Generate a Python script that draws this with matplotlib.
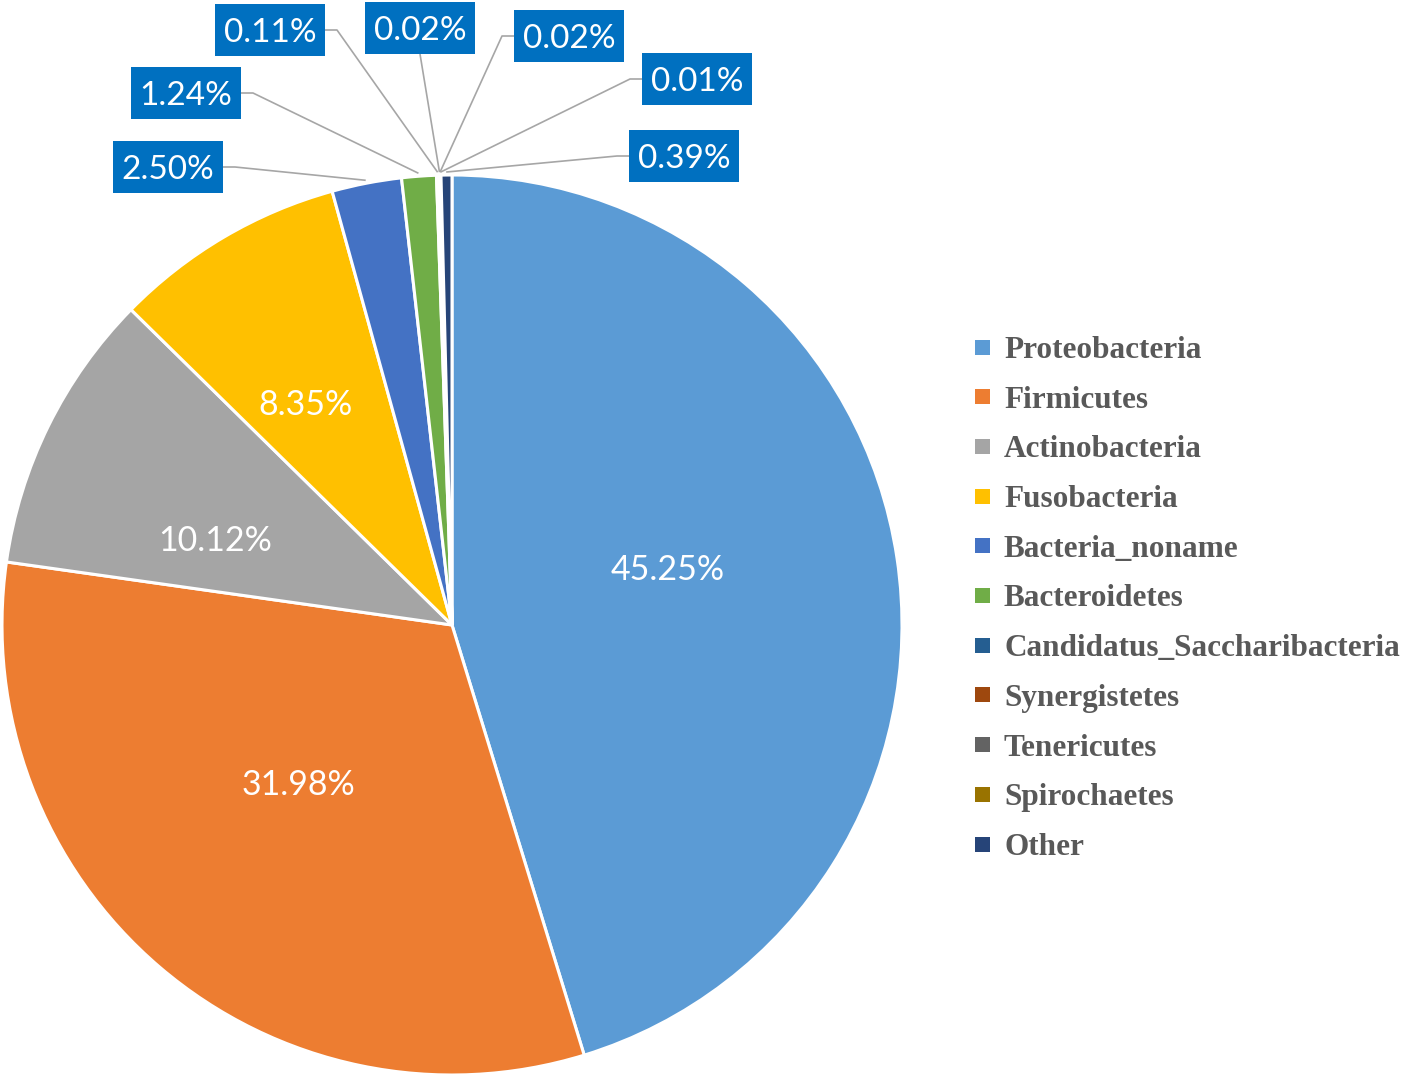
import matplotlib
matplotlib.use("Agg")
import matplotlib.pyplot as plt
from matplotlib.patches import Rectangle
import numpy as np

phyla = ["Proteobacteria", "Firmicutes", "Actinobacteria", "Fusobacteria",
         "Bacteria_noname", "Bacteroidetes", "Candidatus_Saccharibacteria",
         "Synergistetes", "Tenericutes", "Spirochaetes", "Other"]
percent = [45.25, 31.98, 10.12, 8.35, 2.50, 1.24, 0.11, 0.02, 0.02, 0.01, 0.39]
colors = ["#5B9BD5", "#ED7D31", "#A5A5A5", "#FFC000", "#4472C4", "#70AD47",
          "#255E91", "#9E480E", "#636363", "#997300", "#264478"]

W, H = 1418, 1078
fig = plt.figure(figsize=(W / 100, H / 100), dpi=100)
ax = fig.add_axes([0, 0, 1, 1])

# pie in pixel-like coordinates (y measured up from bottom)
cx, cy, r = 452, H - 625, 450
wedges, _ = ax.pie(percent, colors=colors, startangle=90, counterclock=False,
                   center=(cx, cy), radius=r,
                   wedgeprops=dict(edgecolor="white", linewidth=2.2))
ax.set_xlim(0, W)
ax.set_ylim(0, H)
ax.set_aspect("equal")
ax.axis("off")

lab_font = "Lato"

# labels inside the big slices
inside_pos = [(668, 567), (298, 782), (215, 538), (306, 402)]
for p, (x, y) in zip(percent[:4], inside_pos):
    ax.text(x, H - y, f"{p:.2f}%", color="white", fontsize=24.5,
            family=lab_font, ha="center", va="center_baseline")

# callout boxes for the small slices: (box centre, side the leader leaves from)
box_pos = [(168, 167, "right"), (186, 93, "right"), (270, 30, "right"),
           (420, 28, "bottom"), (569, 36, "left"), (697, 79, "left"),
           (684, 156, "left")]
mids = np.cumsum(percent) - np.array(percent) / 2  # percent from top, clockwise
half_w, half_h = 55, 26
for i, (bx, by, side) in enumerate(box_pos):
    k = 4 + i
    theta = np.deg2rad(90 - mids[k] * 3.6)
    ex = cx + (r + 3) * np.cos(theta)
    ey = cy + (r + 3) * np.sin(theta)
    by_ = H - by
    if side == "right":
        xs = [bx + half_w, bx + half_w + 12, ex]
        ys = [by_, by_, ey]
    elif side == "left":
        xs = [bx - half_w, bx - half_w - 12, ex]
        ys = [by_, by_, ey]
    else:
        xs = [bx, ex]
        ys = [by_ - half_h, ey]
    ax.plot(xs, ys, color="#A6A6A6", lw=1.2, zorder=3, solid_capstyle="butt")
    ax.add_patch(Rectangle((bx - half_w, by_ - half_h), 2 * half_w, 2 * half_h,
                           facecolor="#0070C0", edgecolor="none", zorder=4))
    ax.text(bx, by_, f"{percent[k]:.2f}%", color="white", fontsize=24,
            family=lab_font, ha="center", va="center_baseline", zorder=5)

# legend
y0, step = 347, 49.7
for i, (name, c) in enumerate(zip(phyla, colors)):
    yy = H - (y0 + i * step)
    ax.add_patch(Rectangle((975, yy - 7.5), 15, 15, facecolor=c,
                           edgecolor="none"))
    ax.text(1004, yy, name, color="#595959", fontsize=22.5,
            family="Liberation Serif", fontweight="bold",
            ha="left", va="center_baseline")

fig.savefig("out.png", dpi=100)
